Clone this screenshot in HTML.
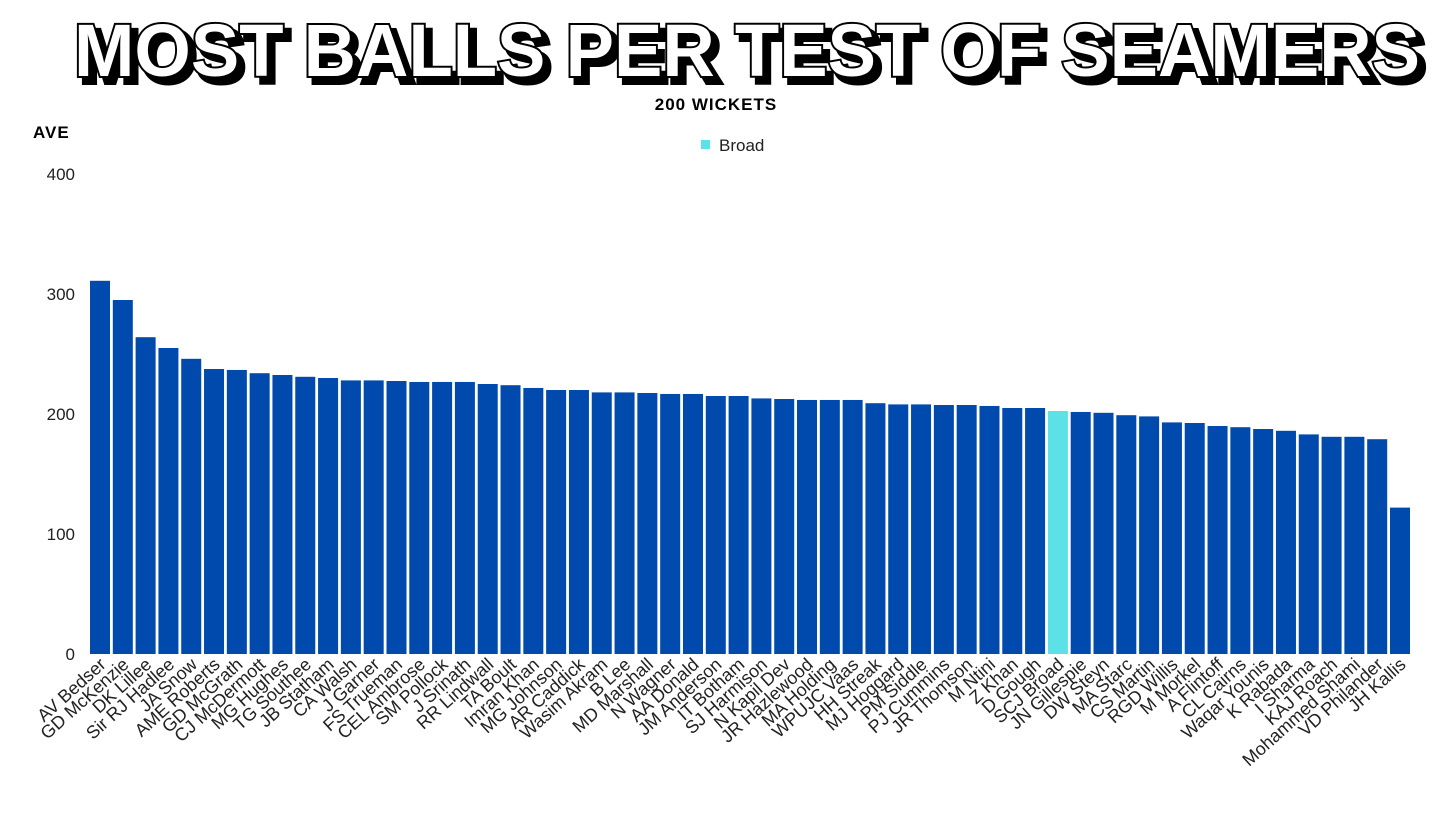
<!DOCTYPE html>
<html><head><meta charset="utf-8"><style>
html,body{margin:0;padding:0;background:#fff;}
svg{display:block;font-family:"Liberation Sans",sans-serif;}
</style></head><body>
<svg id="chart" width="1456" height="819" viewBox="0 0 1456 819" xmlns="http://www.w3.org/2000/svg">
<text x="80" y="82" textLength="1346" lengthAdjust="spacingAndGlyphs" font-size="74" font-weight="bold" fill="#000" stroke="#000" stroke-width="6">MOST BALLS PER TEST OF SEAMERS</text>
<text x="74" y="76" textLength="1346" lengthAdjust="spacingAndGlyphs" font-size="74" font-weight="bold" fill="#fff" stroke="#000" stroke-width="4" paint-order="stroke">MOST BALLS PER TEST OF SEAMERS</text>
<text x="716" y="110" text-anchor="middle" font-size="17" font-weight="bold" letter-spacing="1">200 WICKETS</text>
<text x="33" y="138" font-size="17" font-weight="bold" letter-spacing="1">AVE</text>
<rect x="701" y="140" width="9" height="9" fill="#5ce1e6"/>
<text x="719" y="151" font-size="17" fill="#222">Broad</text>
<g id="yticks"></g><g id="bars"></g><g id="xlabels"></g>
</svg>
<script>
const players=["AV Bedser","GD McKenzie","DK Lillee","Sir RJ Hadlee","JA Snow","AME Roberts","GD McGrath","CJ McDermott","MG Hughes","TG Southee","JB Statham","CA Walsh","J Garner","FS Trueman","CEL Ambrose","SM Pollock","J Srinath","RR Lindwall","TA Boult","Imran Khan","MG Johnson","AR Caddick","Wasim Akram","B Lee","MD Marshall","N Wagner","AA Donald","JM Anderson","IT Botham","SJ Harmison","N Kapil Dev","JR Hazlewood","MA Holding","WPUJC Vaas","HH Streak","MJ Hoggard","PM Siddle","PJ Cummins","JR Thomson","M Ntini","Z Khan","D Gough","SCJ Broad","JN Gillespie","DW Steyn","MA Starc","CS Martin","RGD Willis","M Morkel","A Flintoff","CL Cairns","Waqar Younis","K Rabada","I Sharma","KAJ Roach","Mohammed Shami","VD Philander","JH Kallis"];
const balls=[311,295,264,255,246,237.5,236.7,234,232.5,231,230,228,228,227.5,226.7,226.7,226.7,225,224,221.7,220,220,218,218,217.5,216.7,216.7,215,215,213,212.5,211.7,211.7,211.7,209,208,208,207.5,207.5,206.7,205,205,202.5,201.7,201,199,198,193,192.5,190,189,187.5,186,183,181,181,179,122];
const highlight="SCJ Broad";
const yTicks=[0,100,200,300,400];
const NS="http://www.w3.org/2000/svg";
const y0=654,pxPer=1.2,x0=100,pitch=(1400-100)/57,bw=20;
const yS=v=>y0-v*pxPer, xS=i=>x0+i*pitch;
const yt=document.getElementById('yticks');
yTicks.forEach(t=>{const e=document.createElementNS(NS,'text');


e.setAttribute('x',75);e.setAttribute('y',yS(t)+6);e.setAttribute('text-anchor','end');e.setAttribute('font-size','17');e.setAttribute('fill','#222');e.textContent=t;yt.appendChild(e);});
const bg=document.getElementById('bars'),xg=document.getElementById('xlabels');
players.forEach((p,i)=>{const r=document.createElementNS(NS,'rect');


const cx=xS(i);r.setAttribute('x',cx-bw/2);r.setAttribute('y',yS(balls[i]));r.setAttribute('width',bw);r.setAttribute('height',balls[i]*pxPer);
r.setAttribute('fill',p===highlight?'#5ce1e6':'#004aad');bg.appendChild(r);
const t=document.createElementNS(NS,'text');


t.setAttribute('text-anchor','end');t.setAttribute('font-size','18');t.setAttribute('fill','#222');
t.setAttribute('transform','translate('+(cx+7)+',666) rotate(-42)');t.textContent=p;xg.appendChild(t);});
</script>
</body></html>
